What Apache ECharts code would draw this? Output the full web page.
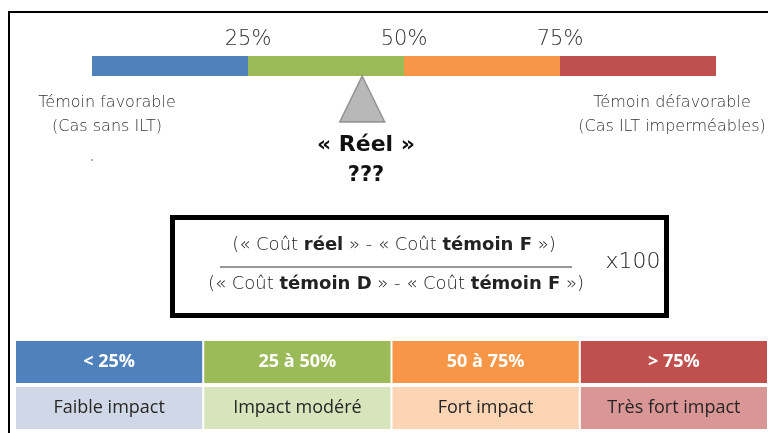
<!DOCTYPE html>
<html>
<head>
<meta charset="utf-8">
<script src="https://cdn.jsdelivr.net/npm/echarts@6/dist/echarts.min.js"></script>
<style>
  html, body { margin: 0; padding: 0; background: #fff; }
  #main { width: 768px; height: 433px; }
</style>
</head>
<body>
<div id="main"></div>
<script>
// données
var bandWidths = [25, 25, 25, 25];
var bandColors = ['#4f81bd', '#9bbb59', '#f79646', '#c0504d'];
var lightColors = ['#d0d8e8', '#d8e4bc', '#fcd5b4', '#da9694'];
var tickLabels = [25, 50, 75];
var bandLabels = ['< 25%', '25 à 50%', '50 à 75%', '> 75%'];
var impactLabels = ['Faible impact', 'Impact modéré', 'Fort impact', 'Très fort impact'];
var reelValue = [43.3];

var light = '"DejaVu Sans"';
var calibri = '"Open Sans", sans-serif';

var chart = echarts.init(document.getElementById('main'));

// barre de l'échelle
var scaleSeries = bandWidths.map(function (w, i) {
    return {
        type: 'bar',
        stack: 'scale',
        xAxisIndex: 0,
        yAxisIndex: 0,
        barWidth: 20,
        data: [w],
        itemStyle: { color: bandColors[i] },
        silent: true
    };
});

// tableau
var tableSeries = bandWidths.map(function (w, i) {
    return {
        type: 'bar',
        stack: 'table',
        xAxisIndex: 2,
        yAxisIndex: 2,
        barWidth: 44,
        data: [
            {
                value: w,
                itemStyle: { color: bandColors[i] },
                label: {
                    show: true, formatter: bandLabels[i], color: '#fff',
                    fontWeight: 'bold', fontSize: 18, fontFamily: calibri
                }
            },
            {
                value: w,
                itemStyle: { color: lightColors[i] },
                label: {
                    show: true, formatter: impactLabels[i], color: '#262626',
                    fontSize: 18, fontFamily: calibri
                }
            }
        ],
        itemStyle: { borderColor: '#fff', borderWidth: 1 },
        silent: true
    };
});

var option = {
    animation: false,
    grid: [
        { left: 92, top: 56, width: 624, height: 20 },
        { left: 92, top: 76, width: 624, height: 46 },
        { left: 15, top: 339, width: 762, height: 92 }
    ],
    xAxis: [
        {
            gridIndex: 0, type: 'value', position: 'top', min: 0, max: 100, interval: 25,
            axisLine: { show: false }, axisTick: { show: false }, splitLine: { show: false },
            axisLabel: {
                margin: 6, fontSize: 21, fontFamily: light, fontWeight: 200, color: '#333',
                formatter: function (v) { return tickLabels.indexOf(v) >= 0 ? v + '%' : ''; }
            }
        },
        { gridIndex: 1, type: 'value', min: 0, max: 100, show: false },
        { gridIndex: 2, type: 'value', min: 0, max: 100, show: false }
    ],
    yAxis: [
        { gridIndex: 0, type: 'category', data: ['echelle'], show: false },
        { gridIndex: 1, type: 'value', min: 0, max: 1, show: false },
        { gridIndex: 2, type: 'category', data: ['seuil', 'impact'], inverse: true, show: false }
    ],
    series: scaleSeries.concat(tableSeries).concat([{
        type: 'scatter',
        xAxisIndex: 1,
        yAxisIndex: 1,
        symbol: 'triangle',
        symbolSize: [45, 46],
        data: [[reelValue[0], 0.5]],
        itemStyle: { color: '#a6a6a6', borderColor: '#7f7f7f', borderWidth: 1.5 },
        silent: true
    }]),
    graphic: [
        // cadre
        { type: 'line', shape: { x1: 8, y1: 12, x2: 768, y2: 12 }, style: { stroke: '#000', lineWidth: 2 } },
        { type: 'line', shape: { x1: 9, y1: 12, x2: 9, y2: 433 }, style: { stroke: '#000', lineWidth: 2 } },
        { type: 'circle', shape: { cx: 92, cy: 160, r: 0.8 }, style: { fill: '#555' } },
        {
            type: 'text', x: 107, y: 103,
            style: { text: 'Témoin favorable', font: '200 16px ' + light, fill: '#333', align: 'center', verticalAlign: 'middle' }
        },
        {
            type: 'text', x: 107, y: 127,
            style: { text: '(Cas sans ILT)', font: '200 16px ' + light, fill: '#333', align: 'center', verticalAlign: 'middle' }
        },
        {
            type: 'text', x: 672, y: 103,
            style: { text: 'Témoin défavorable', font: '200 16px ' + light, fill: '#333', align: 'center', verticalAlign: 'middle' }
        },
        {
            type: 'text', x: 672, y: 127,
            style: { text: '(Cas ILT imperméables)', font: '200 16px ' + light, fill: '#333', align: 'center', verticalAlign: 'middle' }
        },
        {
            type: 'text', x: 366, y: 145,
            style: { text: '« Réel »', font: 'bold 22px ' + light, fill: '#111', align: 'center', verticalAlign: 'middle' }
        },
        {
            type: 'text', x: 366, y: 176,
            style: { text: '???', font: 'bold 21px ' + light, fill: '#111', align: 'center', verticalAlign: 'middle' }
        },
        // formule
        {
            type: 'rect', shape: { x: 172.5, y: 217.5, width: 494, height: 98 },
            style: { fill: '#fff', stroke: '#000', lineWidth: 5 }
        },
        {
            type: 'text', x: 394, y: 245,
            style: {
                text: '(« Coût {b|réel} » - « Coût {b|témoin F} »)',
                rich: { b: { font: 'bold 18px ' + light, fill: '#222' } },
                font: '200 18px ' + light, fill: '#222', align: 'center', verticalAlign: 'middle'
            }
        },
        { type: 'line', shape: { x1: 220, y1: 267, x2: 572, y2: 267 }, style: { stroke: '#333', lineWidth: 1 } },
        {
            type: 'text', x: 396, y: 284,
            style: {
                text: '(« Coût {b|témoin D} » - « Coût {b|témoin F} »)',
                rich: { b: { font: 'bold 18px ' + light, fill: '#222' } },
                font: '200 18px ' + light, fill: '#222', align: 'center', verticalAlign: 'middle'
            }
        },
        {
            type: 'text', x: 633, y: 262,
            style: { text: 'x100', font: '200 22px ' + light, fill: '#222', align: 'center', verticalAlign: 'middle' }
        }
    ]
};

chart.setOption(option);
</script>
</body>
</html>
